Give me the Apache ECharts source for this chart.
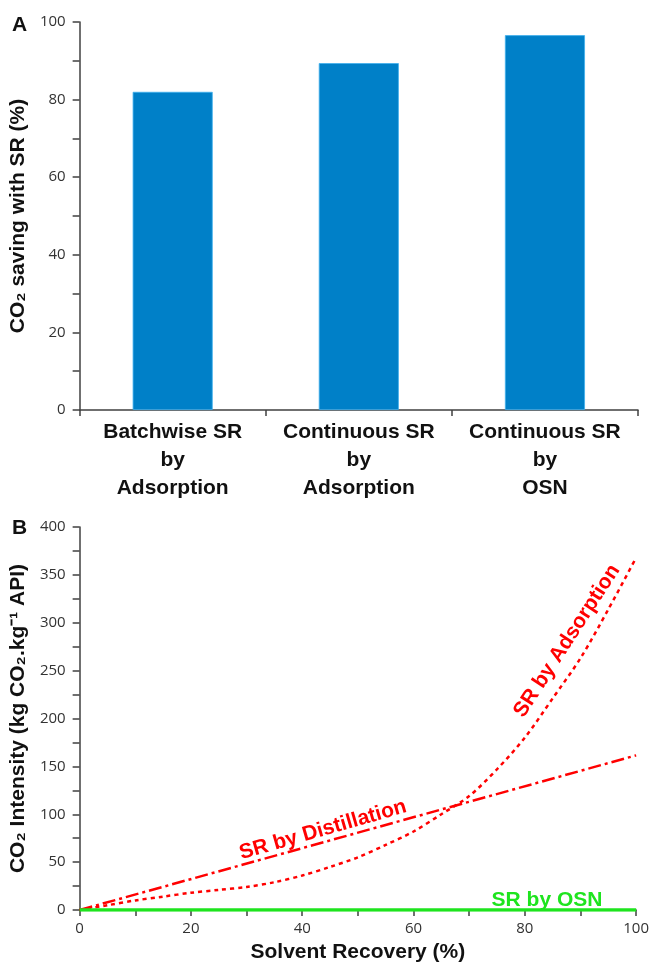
<!DOCTYPE html>
<html><head><meta charset="utf-8">
<script src="https://cdn.jsdelivr.net/npm/echarts@6/dist/echarts.min.js"></script>
<style>html,body{margin:0;padding:0;background:#fff}#c{width:652px;height:964px}</style>
</head><body><div id="c"></div>
<script>
const barCategories = ['Batchwise SR\nby\nAdsorption', 'Continuous SR\nby\nAdsorption', 'Continuous SR\nby\nOSN'];
const barValues = [82.0, 89.4, 96.6];
const recoveryX = [0,5,10,15,20,25,30,35,40,45,50,55,60,65,70,75,80,85,90,95,100];
const adsorptionY = [0,5,10,14,18,21,24,29,36,45,55,68,82,100,119,147,180,221,263,314,368];
const distillationX = [0, 100];
const distillationY = [0, 161.5];
const osnX = [0, 100];
const osnY = [0, 0];
const yTicksA = [0, 100, 20];
const yTicksB = [0, 400, 50];
const xTicksB = [0, 100, 20];

const BOLD = 'Liberation Sans';
const TICKF = 'Open Sans';
const AX = '#404040';
const RED = '#ff0000';
const GREEN = '#1ee41e';

const axisLine = {show: true, lineStyle: {color: AX, width: 1.5}};
const tickLabel = {color: '#333', fontFamily: TICKF, fontSize: 15};

const chart = echarts.init(document.getElementById('c'), null, {renderer: 'canvas'});
chart.setOption({
  animation: false,
  backgroundColor: '#fff',
  grid: [
    {left: 78, right: 14, top: 22, bottom: 554},
    {left: 78, right: 14, top: 527, bottom: 49}
  ],
  xAxis: [
    {
      gridIndex: 0, type: 'category', data: barCategories,
      axisLine: axisLine,
      axisTick: {show: true, length: 6, lineStyle: {color: AX, width: 1.5}},
      axisLabel: {color: '#111', fontFamily: BOLD, fontWeight: 'bold', fontSize: 21, lineHeight: 28, margin: 8, interval: 0},
      splitLine: {show: false}
    },
    {
      gridIndex: 1, type: 'value', min: xTicksB[0], max: xTicksB[1], interval: xTicksB[2],
      axisLine: axisLine,
      axisTick: {show: true, length: 6, lineStyle: {color: AX, width: 1.5}},
      minorTick: {show: true, splitNumber: 2, length: 6, lineStyle: {color: AX, width: 1.5}},
      axisLabel: Object.assign({margin: 11}, tickLabel),
      splitLine: {show: false},
      name: 'Solvent Recovery (%)', nameLocation: 'middle', nameGap: 32,
      nameTextStyle: {color: '#111', fontFamily: BOLD, fontWeight: 'bold', fontSize: 21}
    }
  ],
  yAxis: [
    {
      gridIndex: 0, type: 'value', min: yTicksA[0], max: yTicksA[1], interval: yTicksA[2],
      axisLine: axisLine,
      axisTick: {show: true, length: 7, lineStyle: {color: AX, width: 1.5}},
      minorTick: {show: true, splitNumber: 2, length: 7, lineStyle: {color: AX, width: 1.5}},
      axisLabel: Object.assign({margin: 14}, tickLabel),
      splitLine: {show: false},
      name: 'CO₂ saving with SR (%)', nameLocation: 'middle', nameGap: 42, nameRotate: 90,
      nameTextStyle: {color: '#111', fontFamily: BOLD, fontWeight: 'bold', fontSize: 21}
    },
    {
      gridIndex: 1, type: 'value', min: yTicksB[0], max: yTicksB[1], interval: yTicksB[2],
      axisLine: axisLine,
      axisTick: {show: true, length: 7, lineStyle: {color: AX, width: 1.5}},
      minorTick: {show: true, splitNumber: 2, length: 7, lineStyle: {color: AX, width: 1.5}},
      axisLabel: Object.assign({margin: 14}, tickLabel),
      splitLine: {show: false},
      name: 'CO₂ Intensity (kg CO₂.kg⁻¹ API)', nameLocation: 'middle', nameGap: 42, nameRotate: 90,
      nameTextStyle: {color: '#111', fontFamily: BOLD, fontWeight: 'bold', fontSize: 21}
    }
  ],
  series: [
    {
      type: 'bar', xAxisIndex: 0, yAxisIndex: 0, data: barValues, barWidth: '43%',
      itemStyle: {color: '#0080c8', borderColor: '#3fb0ee', borderWidth: 0.8}
    },
    {
      type: 'line', xAxisIndex: 1, yAxisIndex: 1, showSymbol: false, smooth: 0.3,
      data: recoveryX.map((x, i) => [x, adsorptionY[i]]),
      lineStyle: {color: RED, width: 2.5, type: [4, 4]}
    },
    {
      type: 'line', xAxisIndex: 1, yAxisIndex: 1, showSymbol: false,
      data: distillationX.map((x, i) => [x, distillationY[i]]),
      lineStyle: {color: RED, width: 2.5, type: [13, 4, 3, 4]}
    },
    {
      type: 'line', xAxisIndex: 1, yAxisIndex: 1, showSymbol: false, z: 5,
      data: osnX.map((x, i) => [x, osnY[i]]),
      lineStyle: {color: GREEN, width: 3.5}
    }
  ],
  graphic: [
    {type: 'text', left: 12, top: 15, style: {text: 'A', fontFamily: BOLD, fontWeight: 'bold', fontSize: 21, fill: '#111'}},
    {type: 'text', left: 12, top: 518, style: {text: 'B', fontFamily: BOLD, fontWeight: 'bold', fontSize: 21, fill: '#111'}},
    {type: 'text', x: 323, y: 830, rotation: 16 * Math.PI / 180,
     style: {text: 'SR by Distillation', fontFamily: BOLD, fontWeight: 'bold', fontSize: 21, fill: RED, textAlign: 'center', textVerticalAlign: 'middle'}},
    {type: 'text', x: 567, y: 641, rotation: 57 * Math.PI / 180,
     style: {text: 'SR by Adsorption', fontFamily: BOLD, fontWeight: 'bold', fontSize: 21, fill: RED, textAlign: 'center', textVerticalAlign: 'middle'}},
    {type: 'text', x: 547, y: 900,
     style: {text: 'SR by OSN', fontFamily: BOLD, fontWeight: 'bold', fontSize: 21, fill: GREEN, textAlign: 'center', textVerticalAlign: 'middle'}}
  ]
});
</script></body></html>
